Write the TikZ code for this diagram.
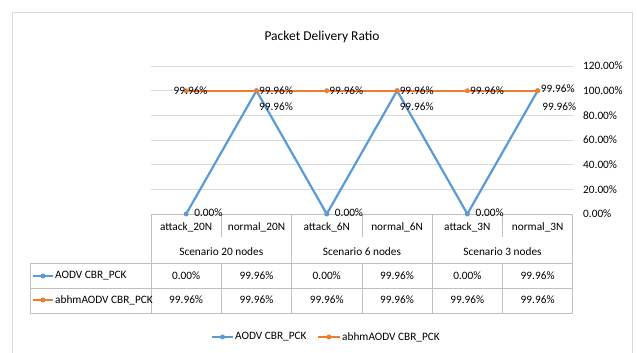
\documentclass[tikz,border=0pt]{standalone}
\usepackage{fontspec}
\setmainfont{Carlito}
\usepackage{tikz}
\usetikzlibrary{positioning}
\definecolor{aodvblue}{HTML}{5B9BD5}
\definecolor{abhmorange}{HTML}{ED7D31}
\definecolor{gridgray}{HTML}{D9D9D9}
\definecolor{tablegray}{HTML}{BFBFBF}

\begin{document}
\begin{tikzpicture}[x=1pt,y=1pt,
  gridline/.style={draw=gridgray,line width=0.8pt},
  tableline/.style={draw=tablegray,line width=0.8pt},
  txt/.style={font=\fontsize{11.3}{13}\selectfont,inner sep=0pt,text=black},
  datalabel/.style={txt,anchor=west},
  series/.style={line width=2.2pt,line join=round},
  aodv/.style={series,draw=aodvblue},
  abhm/.style={series,draw=abhmorange},
  dot/.style={circle,inner sep=0pt,minimum size=5pt}
]
  \useasboundingbox (0,0) rectangle (637,353);
  % chart frame
  \draw[gridline] (12,0) -- (12,341) -- (632,341) -- (632,0);
  \node[txt,font=\fontsize{13.5}{15}\selectfont] (title) at (322,316) {Packet Delivery Ratio};
  % value axis and grid
  \foreach \v/\t [count=\k] in {20/20.00\%,40/40.00\%,60/60.00\%,80/80.00\%,100/100.00\%,120/120.00\%} {
    \draw[gridline] (151,{139+1.2333*\v}) -- (573,{139+1.2333*\v});
    \node[datalabel] (tick\k) at (583,{139+1.2333*\v}) {\t};
  }
  \node[datalabel] (tick0) at (583,139) {0.00\%};
  % data table
  \draw[tableline] (151,139) -- (573,139);
  \foreach \y in {90,65,40} \draw[tableline] (30,\y) -- (573,\y);
  \draw[tableline] (30,40) -- (30,90);
  \foreach \x in {151,291.6,432.2,572.8} \draw[tableline] (\x,40) -- (\x,139);
  \foreach \x in {221.3,361.9,502.5} {
    \draw[tableline] (\x,139) -- (\x,116);
    \draw[tableline] (\x,40) -- (\x,90);
  }
  \foreach \c [count=\i] in {attack\_20N,normal\_20N,attack\_6N,normal\_6N,attack\_3N,normal\_3N}
    \node[txt] (cat\i) at ({115.85+70.3*\i},126) {\c};
  \foreach \s/\x [count=\i] in {20/221.3,6/361.9,3/502.5}
    \node[txt] (scen\i) at (\x,101) {Scenario \s\ nodes};
  \foreach \a/\h [count=\i] in {0.00/99.96,99.96/99.96,0.00/99.96,99.96/99.96,0.00/99.96,99.96/99.96} {
    \node[txt] (aodvcell\i) at ({115.85+70.3*\i},77) {\a\%};
    \node[txt] (abhmcell\i) at ({115.85+70.3*\i},53) {\h\%};
  }
  % table legend keys
  \coordinate (keyA) at (33,77);
  \coordinate (keyB) at (33,53);
  \draw[aodv,line width=1.8pt] (keyA) -- ++(20,0);
  \node[dot,fill=aodvblue] (keyAdot) at ([xshift=10pt]keyA) {};
  \node[datalabel] (keyAtxt) at ([xshift=22pt]keyA) {AODV CBR\_PCK};
  \draw[abhm,line width=1.8pt] (keyB) -- ++(20,0);
  \node[dot,fill=abhmorange] (keyBdot) at ([xshift=10pt]keyB) {};
  \node[datalabel] (keyBtxt) at ([xshift=22pt]keyB) {abhmAODV CBR\_PCK};
  % series
  \foreach \i/\a in {1/0,2/99.96,3/0,4/99.96,5/0,6/99.96} {
    \coordinate (aodv\i) at ({115.85+70.3*\i},{139+1.2333*\a});
    \coordinate (abhm\i) at ({115.85+70.3*\i},{139+1.2333*99.96});
  }
  \draw[aodv] (aodv1) -- (aodv2) -- (aodv3) -- (aodv4) -- (aodv5) -- (aodv6);
  \foreach \i in {1,...,6} \node[dot,fill=aodvblue] (aodvdot\i) at (aodv\i) {};
  \draw[abhm] (abhm1) -- (abhm2) -- (abhm3) -- (abhm4) -- (abhm5) -- (abhm6);
  \foreach \i in {1,...,6} \node[dot,fill=abhmorange] (abhmdot\i) at (abhm\i) {};
  % data labels
  \node[txt] (abhmlbl1) at ([xshift=4.5pt]abhm1) {99.96\%};
  \foreach \i in {2,...,5} \node[datalabel,right=2.5pt of abhm\i] (abhmlbl\i) {99.96\%};
  \node[datalabel,anchor=west] (abhmlbl6) at ([xshift=3pt,yshift=2pt]abhm6) {99.96\%};
  \foreach \i in {2,4} \node[datalabel] (aodvlbl\i) at ([xshift=2.5pt,yshift=-16pt]aodv\i) {99.96\%};
  \node[datalabel] (aodvlbl6) at ([xshift=4.5pt,yshift=-16pt]aodv6) {99.96\%};
  \foreach \i in {1,3,5} \node[datalabel] (aodvlbl\i) at ([xshift=8pt,yshift=1.5pt]aodv\i) {0.00\%};
  % legend
  \coordinate (legA) at (212,16);
  \coordinate (legB) at (318,16);
  \draw[aodv,line width=1.8pt] (legA) -- ++(21,0);
  \node[dot,fill=aodvblue] (legAdot) at ([xshift=10.5pt]legA) {};
  \node[datalabel] (legAtxt) at ([xshift=23pt]legA) {AODV CBR\_PCK};
  \draw[abhm,line width=1.8pt] (legB) -- ++(22,0);
  \node[dot,fill=abhmorange] (legBdot) at ([xshift=11pt]legB) {};
  \node[datalabel] (legBtxt) at ([xshift=24pt]legB) {abhmAODV CBR\_PCK};
\end{tikzpicture}
\end{document}
